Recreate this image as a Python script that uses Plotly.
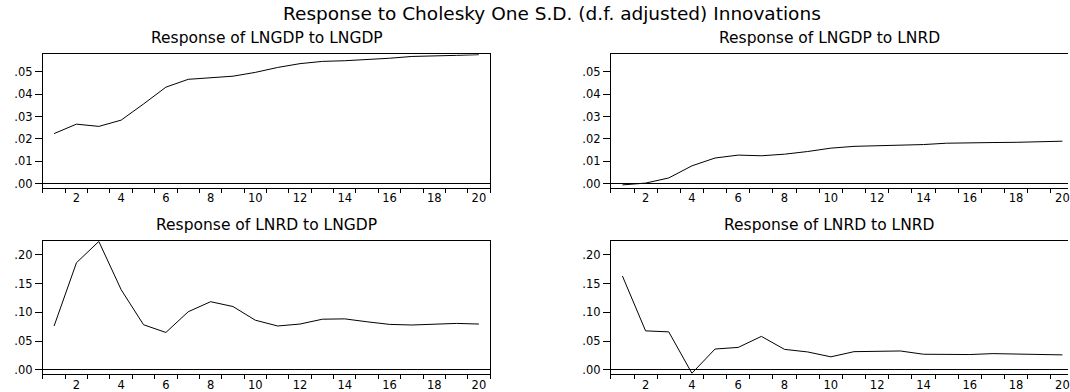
import plotly.graph_objects as go

# ---------------- data ----------------
periods = list(range(1, 21))

lngdp_to_lngdp = [0.0224, 0.0266, 0.0256, 0.0284, 0.0356, 0.0431, 0.0466, 0.0473, 0.0480, 0.0497,
                  0.0519, 0.0536, 0.0546, 0.0549, 0.0553, 0.0560, 0.0568, 0.0572, 0.0573, 0.0576]
lngdp_to_lnrd = [-0.0005, 0.0003, 0.0026, 0.0080, 0.0115, 0.0128, 0.0125, 0.0132, 0.0144, 0.0159,
                 0.0167, 0.0170, 0.0171, 0.0175, 0.0181, 0.0184, 0.0184, 0.0185, 0.0188, 0.0190]
lnrd_to_lngdp = [0.0763, 0.1864, 0.2235, 0.1395, 0.0785, 0.0650, 0.1011, 0.1186, 0.1102, 0.0864,
                 0.0763, 0.0797, 0.0881, 0.0887, 0.0836, 0.0791, 0.0780, 0.0791, 0.0808, 0.0797]
lnrd_to_lnrd = [0.1633, 0.0678, 0.0661, -0.0060, 0.0362, 0.0390, 0.0582, 0.0356, 0.0311, 0.0226,
                0.0316, 0.0328, 0.0328, 0.0271, 0.0266, 0.0266, 0.0282, 0.0277, 0.0271, 0.0260]

x_tick_vals = [2, 4, 6, 8, 10, 12, 14, 16, 18, 20]
x_tick_text = ["2", "4", "6", "8", "10", "12", "14", "16", "18", "20"]
top_tick_vals = [0.00, 0.01, 0.02, 0.03, 0.04, 0.05]
top_tick_text = [".00", ".01", ".02", ".03", ".04", ".05"]
bot_tick_vals = [0.00, 0.05, 0.10, 0.15, 0.20]
bot_tick_text = [".00", ".05", ".10", ".15", ".20"]

main_title = "Response to Cholesky One S.D. (d.f. adjusted) Innovations"
panel_titles = ["Response of LNGDP to LNGDP", "Response of LNGDP to LNRD",
                "Response of LNRD to LNGDP", "Response of LNRD to LNRD"]

# ---------------- layout helpers ----------------
W, H = 1070, 392
FONT = "DejaVu Sans"


def px_x(p):
    return p / W


def px_y(p):
    return 1 - p / H


left_dom = [px_x(43), px_x(491)]
right_left = 612
right_unit = 23.2
right_dom = [px_x(right_left), 1.0]
right_max = 0.5 + (W - right_left) / right_unit
top_dom = [px_y(192), px_y(55.5)]
bot_dom = [px_y(382.5), px_y(247)]

top_range = [-0.0017, 0.0578]
bot_range = [-0.0068, 0.2237]

fig = go.Figure()
series = [lngdp_to_lngdp, lngdp_to_lnrd, lnrd_to_lngdp, lnrd_to_lnrd]
for i, s in enumerate(series):
    n = "" if i == 0 else str(i + 1)
    fig.add_trace(go.Scatter(x=periods, y=s, mode="lines",
                             line=dict(color="black", width=1),
                             xaxis="x" + n, yaxis="y" + n, showlegend=False,
                             hoverinfo="skip", cliponaxis=False))


def xaxis(dom, rng, anchor):
    return dict(domain=dom, range=rng, anchor=anchor, showgrid=False, zeroline=False,
                showline=True, linecolor="black", linewidth=1, mirror=True,
                tickmode="array", tickvals=x_tick_vals, ticktext=x_tick_text,
                ticks="", ticklabeloverflow="allow",
                tickfont=dict(family=FONT, size=11.5, color="black"),
                minor=dict(ticks="outside", tick0=0.5, dtick=1, ticklen=4,
                           tickcolor="black", tickwidth=1, showgrid=False),
                fixedrange=True)


def yaxis(dom, rng, anchor, vals, text, mirror):
    return dict(domain=dom, range=rng, anchor=anchor, showgrid=False,
                zeroline=True, zerolinecolor="black", zerolinewidth=1,
                showline=True, linecolor="black", linewidth=1, mirror=mirror,
                tickmode="array", tickvals=vals, ticktext=text,
                ticks="outside", ticklen=7, tickcolor="black", tickwidth=1,
                tickfont=dict(family=FONT, size=11.5, color="black"), fixedrange=True)


fig.update_layout(
    width=W, height=H, margin=dict(l=0, r=0, t=0, b=0),
    paper_bgcolor="white", plot_bgcolor="white",
    font=dict(family=FONT, color="black"),
    xaxis=xaxis(left_dom, [0.5, 20.5], "y"),
    yaxis=yaxis(top_dom, top_range, "x", top_tick_vals, top_tick_text, True),
    xaxis2=xaxis(right_dom, [0.5, right_max], "y2"),
    yaxis2=yaxis(top_dom, top_range, "x2", top_tick_vals, top_tick_text, False),
    xaxis3=xaxis(left_dom, [0.5, 20.5], "y3"),
    yaxis3=yaxis(bot_dom, bot_range, "x3", bot_tick_vals, bot_tick_text, True),
    xaxis4=xaxis(right_dom, [0.5, right_max], "y4"),
    yaxis4=yaxis(bot_dom, bot_range, "x4", bot_tick_vals, bot_tick_text, False),
)

ann = [dict(text=main_title, x=px_x(553), y=px_y(14), size=18.5)]
centers = [(267, 38.5), (831, 38.5), (267, 230), (831, 230)]
for t, (cx, cy) in zip(panel_titles, centers):
    ann.append(dict(text=t, x=px_x(cx), y=px_y(cy), size=15.5))

for a in ann:
    fig.add_annotation(text=a["text"], x=a["x"], y=a["y"], xref="paper", yref="paper",
                       xanchor="center", yanchor="middle", showarrow=False,
                       font=dict(family=FONT, size=a["size"], color="black"))

fig.write_html("out.html")
